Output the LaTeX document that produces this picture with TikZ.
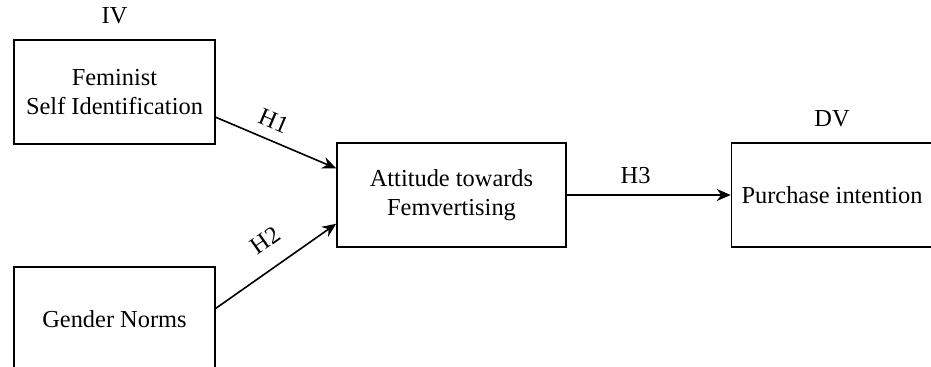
\documentclass[tikz,border=0pt]{standalone}
\usepackage{fontspec}
\setmainfont{Liberation Serif}
\usepackage{tikz}
\usetikzlibrary{arrows.meta}
\usetikzlibrary{positioning}

\begin{document}
\begin{tikzpicture}[x=0.5pt,y=-0.5pt,
		varbox/.style={rectangle,draw=black,line width=0.8pt,align=center,
			minimum width=100.5pt,minimum height=52pt,inner sep=0pt},
		path/.style={line width=0.8pt,-{Stealth[length=7pt,width=6pt]}},
		font=\fontsize{12.2}{14.5}\selectfont]
			\useasboundingbox (0,0) rectangle (931,367);
			
			% independent variables
			
			\node[varbox] (FSI) at (114.5,92) {Feminist\\Self Identification};
			\node[varbox] (GN) at (114.5,319) {Gender Norms};
			\node[above=4pt of FSI] (IV) {IV};
			
			% mediator and dependent variable
			
			\node[varbox,minimum width=114.5pt] (ATF) at (451.5,195) {Attitude towards\\Femvertising};
			\node[varbox] (PI) at (832,195) {Purchase intention};
			\node[above=4pt of PI] (DV) {DV};
			
			% hypotheses
			
			\draw[path] (FSI.-14.5) -- node[pos=0.42,sloped,above,inner sep=5pt] (H1) {H1} (ATF.167.7);
			\draw[path] (GN.6.7) -- node[pos=0.54,sloped,above,inner sep=9pt] (H2) {H2} (ATF.194.2);
			\draw[path] (ATF.east) -- node[pos=0.42,above,inner sep=5pt] (H3) {H3} (PI.west);
			
		\end{tikzpicture}
\end{document}
